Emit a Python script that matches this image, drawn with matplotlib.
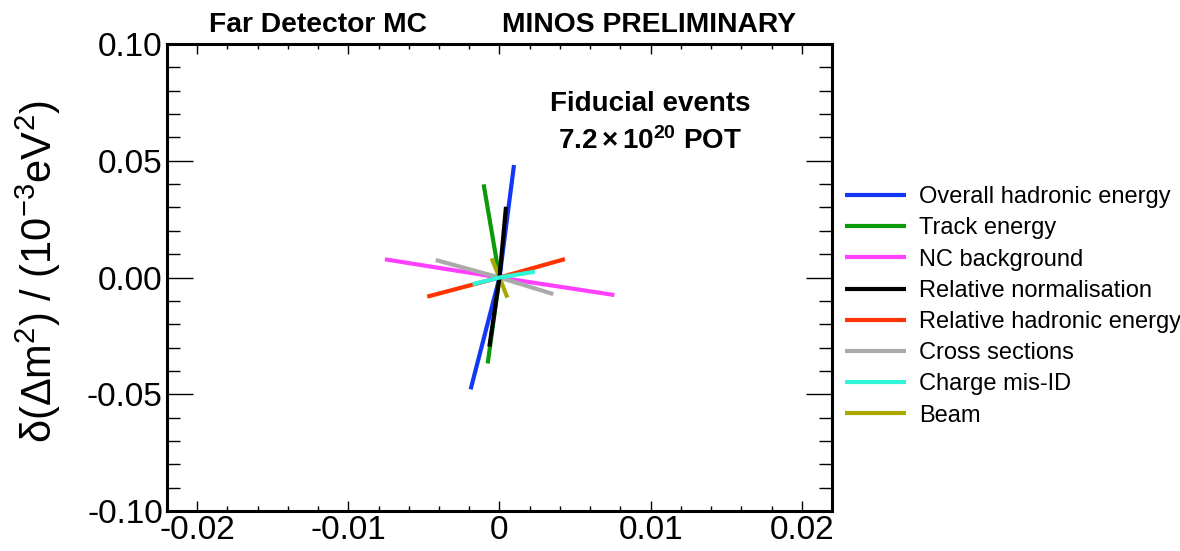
import matplotlib
matplotlib.use("Agg")
import matplotlib.pyplot as plt
from matplotlib.ticker import MultipleLocator, FuncFormatter

plt.rcParams['font.family'] = ['Liberation Sans', 'DejaVu Sans']
plt.rcParams['mathtext.fontset'] = 'custom'
plt.rcParams['mathtext.rm'] = 'Liberation Sans'
plt.rcParams['mathtext.it'] = 'Liberation Sans:italic'
plt.rcParams['mathtext.bf'] = 'Liberation Sans:bold'

# systematic shifts of the best fit point: (d sin^2 2theta, d dm2 in 1e-3 eV^2)
systematics = ["Overall hadronic energy", "Track energy", "NC background",
               "Relative normalisation", "Relative hadronic energy",
               "Cross sections", "Charge mis-ID", "Beam"]
dsin_plus = [0.00096, -0.00105, 0.0076, 0.00043, 0.00433, 0.00356, 0.00235, 0.00052]
ddm_plus = [0.0482, 0.0399, -0.0075, 0.0303, 0.0079, -0.0071, 0.0025, -0.0086]
dsin_minus = [-0.00191, -0.00078, -0.00758, -0.00067, -0.00478, -0.00422, -0.00178, -0.00052]
ddm_minus = [-0.0479, -0.0368, 0.0078, -0.0296, -0.0082, 0.0075, -0.0029, 0.0082]
colours = ["#1238f5", "#0a9a0a", "#ff40ff", "#000000", "#ff3300",
           "#aaaaaa", "#30f5d8", "#a8a800"]
zorders = [2, 2, 2, 5, 3, 3, 6, 2.5]

fig = plt.figure(figsize=(11.8, 5.51), dpi=100)
ax = fig.add_axes([0.1415, 0.0726, 0.5636, 0.8475])

handles = []
for i, name in enumerate(systematics):
    xs = [dsin_minus[i], 0.0, dsin_plus[i]]
    ys = [ddm_minus[i], 0.0, ddm_plus[i]]
    ln, = ax.plot(xs, ys, color=colours[i], lw=3.0, solid_capstyle='butt',
                  zorder=zorders[i], label=name)
    handles.append(ln)

ax.set_xlim(-0.022, 0.022)
ax.set_ylim(-0.1, 0.1)
ax.xaxis.set_major_locator(MultipleLocator(0.01))
ax.xaxis.set_minor_locator(MultipleLocator(0.002))
ax.yaxis.set_major_locator(MultipleLocator(0.05))
ax.yaxis.set_minor_locator(MultipleLocator(0.01))
ax.xaxis.set_major_formatter(FuncFormatter(lambda v, p: '0' if abs(v) < 1e-9 else f'{v:.2f}'))
ax.yaxis.set_major_formatter(FuncFormatter(lambda v, p: f'{v:.2f}'))

ax.tick_params(which='both', direction='in', top=True, right=True, width=1.0,
               labelsize=24, pad=3)
ax.tick_params(axis='y', which='major', length=19)
ax.tick_params(axis='y', which='minor', length=9.5)
ax.tick_params(axis='x', which='major', length=7)
ax.tick_params(axis='x', which='minor', length=3.5)
for sp in ax.spines.values():
    sp.set_linewidth(2.2)

ax.set_ylabel(r'$\mathrm{\delta(\Delta m^{2})}$ / (10$^{-3}$eV$^{2}$)', fontsize=30)
ax.yaxis.set_label_coords(-0.156, 0.512)

fig.text(0.2695, 0.942, "Far Detector MC", fontsize=20.3, fontweight='bold',
         ha='center', va='baseline')
fig.text(0.55, 0.942, "MINOS PRELIMINARY", fontsize=20.3, fontweight='bold',
         ha='center', va='baseline')
fig.text(0.551, 0.811, "Fiducial events", fontsize=20, fontweight='bold',
         ha='center', va='center')
fig.text(0.551, 0.744, r'$\mathbf{7.2\times10^{20}}$ POT', fontsize=20,
         fontweight='bold', ha='center', va='center')

fig.legend(handles=handles, loc='upper left', bbox_to_anchor=(0.716, 0.662),
           frameon=False, fontsize=17, handlelength=2.6, handletextpad=0.55,
           labelspacing=0.39, borderpad=0, borderaxespad=0)

fig.savefig("out.png", dpi=100)
